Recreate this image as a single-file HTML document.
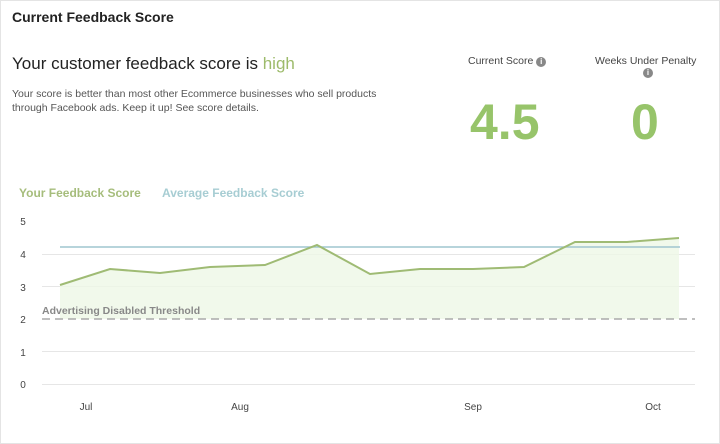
<!DOCTYPE html>
<html><head><style>
body{margin:0;width:720px;height:444px;background:#fff;font-family:"Liberation Sans",sans-serif;position:relative;overflow:hidden}
div{position:absolute;white-space:nowrap}
</style></head><body>
<div style="left:0;top:0;width:720px;height:444px;border:1px solid #e4e4e4;box-sizing:border-box"></div>
<div style="left:12px;top:9px;font-size:14px;font-weight:bold;color:#222">Current Feedback Score</div>
<div style="left:12px;top:54px;font-size:17px;color:#222">Your customer feedback score is <span style="color:#9dbb6b">high</span></div>
<div style="left:12px;top:87px;font-size:10.5px;color:#555;line-height:14px">Your score is better than most other Ecommerce businesses who sell products<br>through Facebook ads. Keep it up! See score details.</div>
<div style="left:468px;top:55px;font-size:10.5px;color:#444">Current Score <span style="display:inline-block;width:10px;height:10px;border-radius:5px;background:#888;color:#fff;font-size:8px;text-align:center;line-height:10px;font-weight:bold">i</span></div>
<div style="left:595px;top:55px;font-size:10.5px;color:#444">Weeks Under Penalty</div>
<div style="left:643px;top:68px;width:10px;height:10px;border-radius:5px;background:#888;color:#fff;font-size:8px;text-align:center;line-height:10px;font-weight:bold">i</div>
<div style="left:470px;top:92px;font-size:50px;font-weight:bold;color:#97c46a;line-height:60px">4.5</div>
<div style="left:631px;top:92px;font-size:50px;font-weight:bold;color:#97c46a;line-height:60px">0</div>
<div style="left:19px;top:186px;font-size:12px;font-weight:bold;color:#a6bd7c">Your Feedback Score</div>
<div style="left:162px;top:186px;font-size:12px;font-weight:bold;color:#a7cdd3">Average Feedback Score</div>
<svg width="720" height="444" style="position:absolute;left:0;top:0" font-family="Liberation Sans, sans-serif">
<g stroke="#e6e6e6" stroke-width="1">
<line x1="42" x2="695" y1="254.5" y2="254.5"/><line x1="42" x2="695" y1="286.5" y2="286.5"/>
<line x1="42" x2="695" y1="351.5" y2="351.5"/><line x1="42" x2="695" y1="384.5" y2="384.5"/>
</g>
<polygon fill="#eef8e6" opacity="0.8" points="60,285 110,269 160,273 210,267 265,265 317,245 370,274 420,269 473,269 524,267 575,242 627,242 679,238 679,319 60,319"/>
<line x1="60" x2="680" y1="247" y2="247" stroke="#9fc6cf" stroke-width="1.5"/>
<polyline fill="none" stroke="#9fbb74" stroke-width="2" points="60,285 110,269 160,273 210,267 265,265 317,245 370,274 420,269 473,269 524,267 575,242 627,242 679,238"/>
<line x1="42" x2="695" y1="319" y2="319" stroke="#aaa" stroke-width="1.5" stroke-dasharray="8,5"/>
<text x="42" y="314" font-size="10.5" font-weight="bold" fill="#888">Advertising Disabled Threshold</text>
<g font-size="10" fill="#444" text-anchor="middle">
<text x="23" y="225">5</text><text x="23" y="258">4</text><text x="23" y="291">3</text>
<text x="23" y="323">2</text><text x="23" y="356">1</text><text x="23" y="388">0</text>
<text x="86" y="410">Jul</text><text x="240" y="410">Aug</text><text x="473" y="410">Sep</text><text x="653" y="410">Oct</text>
</g>
</svg>
</body></html>
